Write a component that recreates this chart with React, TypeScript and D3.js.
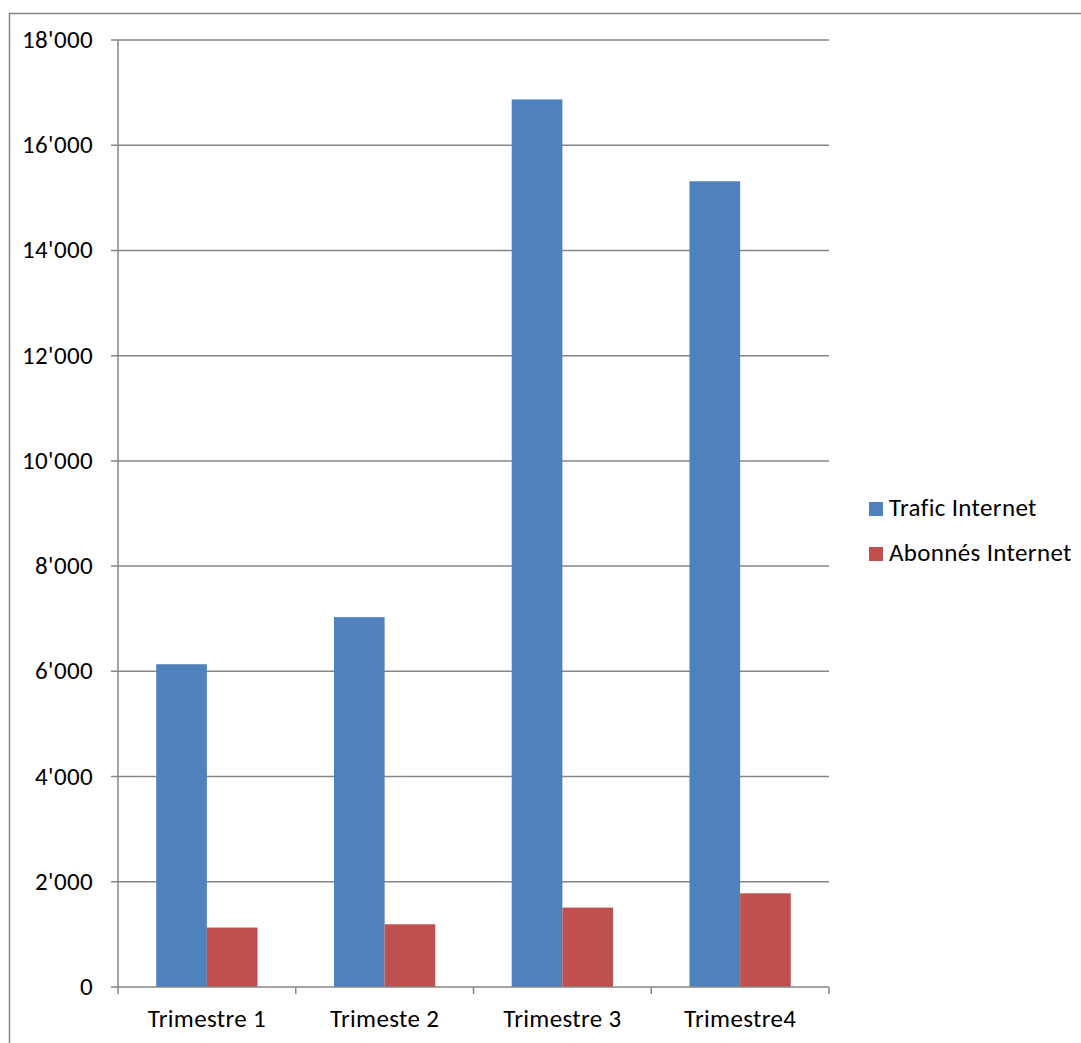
import React from "react";
import * as d3 from "d3";

const categories = ["Trimestre 1", "Trimeste 2", "Trimestre 3", "Trimestre4"];
const seriesNames = ["Trafic Internet", "Abonnés Internet"];
const traficValues = [6135, 7030, 16870, 15315];
const abonnesValues = [1130, 1192, 1510, 1781];
const yTicks = [0, 2000, 4000, 6000, 8000, 10000, 12000, 14000, 16000, 18000];
const colors = ["#4F81BD", "#C0504D"];

const W = 1081;
const H = 1043;
const plot = { left: 118, right: 829, top: 40, bottom: 987 };
const FONT = "Carlito, Calibri, 'Open Sans', 'Noto Sans', sans-serif";
const FS = 25;
const LS = 0.35;

const fmt = d3.formatLocale({ decimal: ".", thousands: "'", grouping: [3], currency: ["", ""] }).format(",d");

export default function App() {
  const x = d3.scaleBand<string>().domain(categories).range([plot.left, plot.right]).paddingInner(0.43).paddingOuter(0.215);
  const xs = d3.scaleBand<string>().domain(seriesNames).range([0, x.bandwidth()]);
  const y = d3.scaleLinear().domain([0, 18000]).range([plot.bottom, plot.top]);
  const step = (plot.right - plot.left) / categories.length;
  const boundaries = d3.range(categories.length + 1).map((i) => plot.left + i * step);
  const grid = "#868686";
  const values = [traficValues, abonnesValues];

  return (
    <svg width={W} height={H} style={{ position: "absolute", left: 0, top: 0, background: "#fff" }} fontFamily={FONT}>
      <rect x={0} y={0} width={W} height={H} fill="#fff" />
      <line x1={9} x2={W} y1={13.5} y2={13.5} stroke={grid} strokeWidth={1.5} />
      <line x1={9.5} x2={9.5} y1={13} y2={H} stroke={grid} strokeWidth={1.5} />
      {yTicks.map((t) => (
        <g key={t}>
          {t > 0 && <line x1={plot.left - 7} x2={plot.right} y1={y(t)} y2={y(t)} stroke={grid} strokeWidth={1.5} />}
          {t === 0 && <line x1={plot.left - 7} x2={plot.left} y1={y(t)} y2={y(t)} stroke={grid} strokeWidth={1.5} />}
          <text x={93} y={y(t) + 8} textAnchor="end" fontSize={FS} letterSpacing={LS} fill="#000">{fmt(t)}</text>
        </g>
      ))}
      {categories.map((c, i) => (
        <g key={c}>
          {seriesNames.map((s, j) => (
            <rect key={s} x={(x(c) as number) + (xs(s) as number)} y={y(values[j][i])} width={xs.bandwidth()} height={y(0) - y(values[j][i])} fill={colors[j]} />
          ))}
          <text x={(x(c) as number) + x.bandwidth() / 2} y={1027} textAnchor="middle" fontSize={FS} letterSpacing={LS} fill="#000">{c}</text>
        </g>
      ))}
      <line x1={plot.left} x2={plot.left} y1={plot.top} y2={plot.bottom} stroke={grid} strokeWidth={1.5} />
      <line x1={plot.left} x2={plot.right} y1={plot.bottom} y2={plot.bottom} stroke={grid} strokeWidth={1.5} />
      {boundaries.map((b, i) => (
        <line key={i} x1={b} x2={b} y1={plot.bottom} y2={plot.bottom + 7} stroke={grid} strokeWidth={1.5} />
      ))}
      {seriesNames.map((s, j) => (
        <g key={s} transform={`translate(869, ${502 + j * 45})`}>
          <rect x={0} y={0} width={14} height={14} fill={colors[j]} />
          <text x={20} y={14} fontSize={FS} letterSpacing={LS} fill="#000">{s}</text>
        </g>
      ))}
    </svg>
  );
}
